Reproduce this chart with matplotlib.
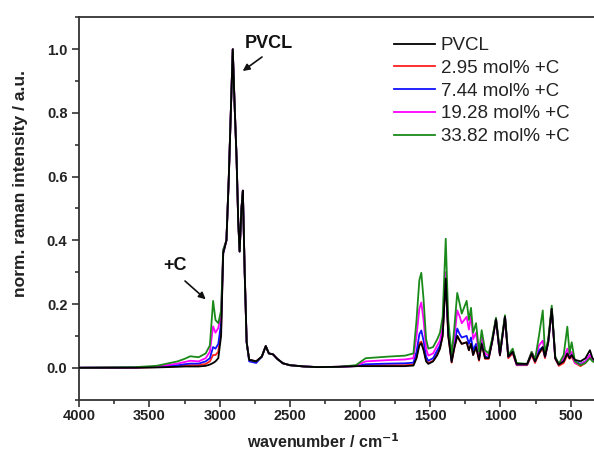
import matplotlib
matplotlib.use("Agg")
import matplotlib.pyplot as plt
from matplotlib.ticker import MultipleLocator

plt.rcParams['font.family'] = ['Liberation Sans', 'DejaVu Sans']

# ---- data ----
wavenumber = [4000, 3600, 3450, 3300, 3250, 3210, 3150, 3100, 3070, 3047,
              3030, 3010, 2990, 2975, 2952, 2935, 2907, 2895, 2880, 2868,
              2858, 2845, 2835, 2822, 2808, 2790, 2740, 2700, 2672, 2650,
              2620, 2590, 2550, 2500, 2400, 2300, 2150, 2030, 1960, 1800,
              1680, 1620, 1598, 1578, 1564, 1548, 1530, 1514, 1480, 1450,
              1431, 1412, 1390, 1372, 1348, 1330, 1308, 1290, 1276, 1241,
              1225, 1210, 1195, 1174, 1153, 1134, 1110, 1084, 1060, 1032,
              1004, 968, 945, 913, 885, 810, 778, 754, 726, 699,
              683, 660, 635, 610, 585, 550, 524, 508, 493, 470,
              430, 395, 363, 345, 320]

pvcl = [0, 0, 0.001, 0.003, 0.004, 0.004, 0.004, 0.006, 0.010, 0.015,
        0.020, 0.030, 0.100, 0.360, 0.400, 0.600, 1.000, 0.840, 0.660, 0.460,
        0.365, 0.500, 0.556, 0.300, 0.080, 0.025, 0.020, 0.035, 0.068, 0.045,
        0.042, 0.028, 0.014, 0.008, 0.004, 0.002, 0.003, 0.005, 0.005, 0.005,
        0.005, 0.007, 0.030, 0.070, 0.077, 0.055, 0.020, 0.012, 0.020, 0.040,
        0.060, 0.100, 0.280, 0.100, 0.018, 0.060, 0.100, 0.085, 0.075, 0.080,
        0.055, 0.075, 0.040, 0.065, 0.025, 0.075, 0.030, 0.030, 0.080, 0.152,
        0.040, 0.160, 0.035, 0.050, 0.012, 0.012, 0.045, 0.020, 0.045, 0.065,
        0.035, 0.080, 0.185, 0.030, 0.010, 0.020, 0.045, 0.030, 0.040, 0.025,
        0.020, 0.030, 0.055, 0.030, 0.020]

c_295 = [0, 0, 0.002, 0.005, 0.007, 0.008, 0.008, 0.012, 0.020, 0.040,
         0.040, 0.050, 0.120, 0.360, 0.400, 0.600, 1.000, 0.840, 0.660, 0.460,
         0.365, 0.500, 0.556, 0.300, 0.080, 0.025, 0.020, 0.035, 0.068, 0.045,
         0.042, 0.028, 0.014, 0.008, 0.004, 0.002, 0.003, 0.005, 0.007, 0.008,
         0.008, 0.010, 0.035, 0.078, 0.082, 0.060, 0.025, 0.015, 0.022, 0.045,
         0.062, 0.100, 0.285, 0.100, 0.016, 0.060, 0.100, 0.085, 0.075, 0.080,
         0.055, 0.075, 0.040, 0.065, 0.022, 0.075, 0.028, 0.028, 0.080, 0.150,
         0.038, 0.158, 0.030, 0.045, 0.008, 0.008, 0.040, 0.015, 0.045, 0.060,
         0.030, 0.080, 0.183, 0.028, 0.006, 0.015, 0.040, 0.028, 0.035, 0.015,
         0.005, 0.015, 0.035, 0.025, 0.018]

c_744 = [0, 0.001, 0.003, 0.008, 0.011, 0.013, 0.013, 0.020, 0.030, 0.065,
         0.060, 0.075, 0.140, 0.360, 0.400, 0.600, 1.000, 0.840, 0.660, 0.460,
         0.365, 0.500, 0.556, 0.300, 0.080, 0.020, 0.015, 0.035, 0.068, 0.045,
         0.042, 0.028, 0.014, 0.008, 0.004, 0.002, 0.003, 0.005, 0.011, 0.013,
         0.014, 0.016, 0.050, 0.105, 0.117, 0.085, 0.035, 0.022, 0.030, 0.055,
         0.070, 0.110, 0.290, 0.110, 0.022, 0.070, 0.123, 0.105, 0.095, 0.100,
         0.075, 0.095, 0.055, 0.075, 0.030, 0.080, 0.035, 0.032, 0.082, 0.152,
         0.040, 0.160, 0.035, 0.050, 0.010, 0.010, 0.045, 0.020, 0.055, 0.065,
         0.035, 0.080, 0.185, 0.030, 0.010, 0.025, 0.045, 0.032, 0.040, 0.020,
         0.012, 0.020, 0.040, 0.025, 0.018]

c_1928 = [0, 0.001, 0.004, 0.013, 0.018, 0.022, 0.020, 0.030, 0.050, 0.130,
          0.110, 0.125, 0.170, 0.370, 0.400, 0.600, 1.000, 0.840, 0.660, 0.460,
          0.365, 0.500, 0.556, 0.300, 0.080, 0.025, 0.020, 0.035, 0.068, 0.045,
          0.042, 0.028, 0.014, 0.008, 0.004, 0.002, 0.003, 0.006, 0.020, 0.024,
          0.026, 0.030, 0.100, 0.185, 0.205, 0.150, 0.060, 0.038, 0.045, 0.070,
          0.085, 0.130, 0.300, 0.120, 0.030, 0.090, 0.180, 0.160, 0.140, 0.160,
          0.120, 0.165, 0.090, 0.110, 0.040, 0.100, 0.045, 0.038, 0.085, 0.155,
          0.045, 0.162, 0.038, 0.055, 0.012, 0.012, 0.050, 0.030, 0.070, 0.085,
          0.040, 0.085, 0.187, 0.032, 0.012, 0.030, 0.060, 0.040, 0.050, 0.015,
          0.010, 0.020, 0.040, 0.025, 0.018]

c_3382 = [0, 0.002, 0.006, 0.020, 0.028, 0.036, 0.033, 0.045, 0.070, 0.210,
          0.150, 0.140, 0.180, 0.370, 0.400, 0.600, 1.000, 0.840, 0.660, 0.460,
          0.365, 0.500, 0.556, 0.300, 0.080, 0.025, 0.020, 0.035, 0.068, 0.045,
          0.042, 0.028, 0.014, 0.008, 0.004, 0.002, 0.003, 0.008, 0.030, 0.035,
          0.038, 0.045, 0.150, 0.275, 0.298, 0.215, 0.090, 0.060, 0.065, 0.090,
          0.110, 0.160, 0.405, 0.150, 0.040, 0.120, 0.235, 0.200, 0.170, 0.210,
          0.150, 0.188, 0.110, 0.140, 0.050, 0.118, 0.055, 0.045, 0.090, 0.157,
          0.050, 0.165, 0.040, 0.060, 0.015, 0.012, 0.050, 0.025, 0.100, 0.180,
          0.045, 0.090, 0.195, 0.035, 0.012, 0.040, 0.129, 0.045, 0.080, 0.020,
          0.008, 0.015, 0.030, 0.020, 0.015]

labels = ['PVCL', '2.95 mol% +C', '7.44 mol% +C', '19.28 mol% +C', '33.82 mol% +C']
series = [pvcl, c_295, c_744, c_1928, c_3382]
colors = ['#000000', '#ff2020', '#1010ff', '#ff00ff', '#1a8a1a']
zorders = [7, 2, 3, 4, 5]

x_ticks = [4000, 3500, 3000, 2500, 2000, 1500, 1000, 500]
y_ticks = [0.0, 0.2, 0.4, 0.6, 0.8, 1.0]

# ---- figure ----
W, H = 594, 459
fig = plt.figure(figsize=(W / 100, H / 100), dpi=100)
ax = fig.add_axes([79.3 / W, (H - 399.6) / H, 1 - 79.3 / W, (399.6 - 17.4) / H])

handles = []
for vals, lab, col, z in zip(series, labels, colors, zorders):
    h, = ax.plot(wavenumber, vals, color=col, lw=1.3, label=lab, zorder=z,
                 solid_joinstyle='round')
    handles.append(h)

ax.set_xlim(4000, 334)
ax.set_ylim(-0.1, 1.1)
ax.set_xticks(x_ticks)
ax.set_yticks(y_ticks)
ax.set_yticklabels([f'{v:.1f}' for v in y_ticks])
ax.xaxis.set_minor_locator(MultipleLocator(250))
ax.yaxis.set_minor_locator(MultipleLocator(0.1))
ax.tick_params(which='both', direction='out', width=1.2, color='#333333',
               labelsize=10.5, labelcolor='#222222', top=False, right=False)
ax.tick_params(which='major', length=5)
ax.tick_params(which='minor', length=3)
ax.tick_params(axis='x', which='major', pad=1.5)
for lbl in ax.get_xticklabels() + ax.get_yticklabels():
    lbl.set_fontweight('bold')
for s in ['left', 'bottom', 'top']:
    ax.spines[s].set_linewidth(1.3)
    ax.spines[s].set_color('#333333')
ax.spines['right'].set_visible(False)

ax.set_xlabel('wavenumber / cm$^{\\mathbf{-1}}$', fontsize=11.5, fontweight='bold',
              color='#222222')
ax.xaxis.set_label_coords(0.4735, -0.085)
ax.set_ylabel('norm. raman intensity / a.u.', fontsize=12.6, fontweight='bold',
              color='#222222')
ax.yaxis.set_label_coords(-0.100, 0.565)

leg = ax.legend(handles=handles, loc='upper left',
                bbox_to_anchor=(394 / W, (H - 37) / H), bbox_transform=fig.transFigure,
                frameon=False, fontsize=13.5, handlelength=2.2, handletextpad=0.3,
                labelspacing=0.30, borderpad=0, borderaxespad=0)
for t in leg.get_texts():
    t.set_color('#222222')

# annotations
ax.text(269, H - 43, 'PVCL', transform=None, ha='center', va='center',
        fontsize=13, fontweight='bold', color='#111111')
ax.text(175, H - 266, '+C', transform=None, ha='center', va='center',
        fontsize=13, fontweight='bold', color='#111111')
arrow_kw = dict(arrowstyle='-|>', color='#111111', lw=1.2, shrinkA=0, shrinkB=0,
                mutation_scale=10)
ax.annotate('', xy=(242.7, H - 71), xycoords='figure pixels',
            xytext=(262, H - 57), textcoords='figure pixels', arrowprops=arrow_kw)
ax.annotate('', xy=(205.7, H - 299.3), xycoords='figure pixels',
            xytext=(185, H - 281), textcoords='figure pixels', arrowprops=arrow_kw)

fig.savefig('out.png', dpi=100)
